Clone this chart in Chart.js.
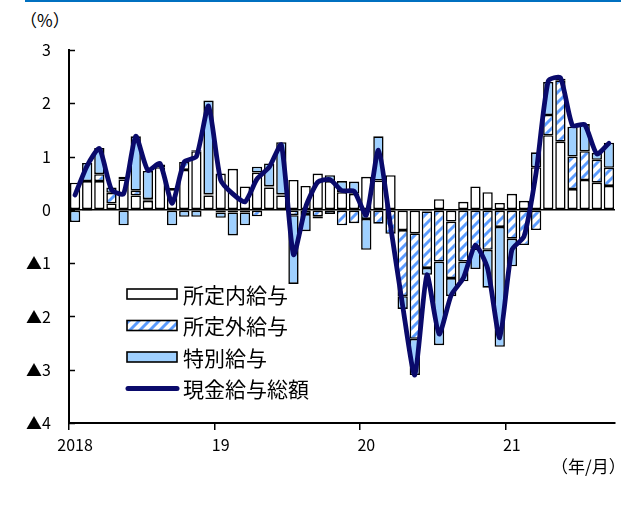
<!DOCTYPE html>
<html lang="ja">
<head>
<meta charset="utf-8">
<script src="https://cdn.jsdelivr.net/npm/chart.js@4.4.1/dist/chart.umd.min.js"></script>
<style>
    html, body { margin: 0; padding: 0; background: #fff; }
    #wrap { position: relative; width: 631px; height: 505px; font-family: 'Noto Sans CJK JP', sans-serif; color: #000; }
    #topRule { position: absolute; left: 25px; top: 0; width: 596px; height: 2px; background: #0070c0; }
    #unitY { position: absolute; left: 20px; top: 7px; font-size: 17px; }
    #unitX { position: absolute; left: 551px; top: 453px; font-size: 17px; }
    canvas { position: absolute; left: 0; top: 0; }
</style>
</head>
<body>
<div id="wrap">
    <div id="topRule"></div>
    <div id="unitY">（%）</div>
    <canvas id="wageChart" width="631" height="505"></canvas>
    <div id="unitX">（年/月）</div>
</div>
<script>
// Years shown on the x axis (label sits on January of each year)
const YEARS = ['2018', '19', '20', '21'];
const MONTHS_IN_LAST_YEAR = 9;

// Y axis range
const Y_MIN = -4;
const Y_MAX = 3;

// Year-on-year contributions (%pt)
const scheduled = [
    0.51, 0.54, 0.54, 0.12, 0.57, 0.27, 0.17, 0.80, 0.39, 0.75, 1.10, 0.27,
    0.68, 0.77, 0.44, 0.70, 0.42, 0.27, 0.56, 0.45, 0.68, 0.54, 0.33, 0.30,
    0.62, 0.55, 0.65, -0.38, -0.44, -0.03, 0.20, -0.22, 0.15, 0.44, 0.33, 0.13,
    0.30, 0.17, 0.80, 1.40, 1.28, 0.39, 0.56, 0.51, 0.45
];
const overtime = [
    0.00, -0.02, 0.13, 0.20, 0.05, 0.09, 0.03, 0.05, 0.02, 0.15, 0.02, 0.02,
    -0.05, -0.05, -0.05, -0.12, 0.02, 0.02, -0.10, -0.08, -0.12, -0.08, -0.29, -0.25,
    -0.17, -0.26, -0.45, -1.24, -1.98, -1.06, -0.97, -1.06, -0.97, -0.73, -0.75, -0.32,
    -0.54, -0.66, -0.38, 0.38, 1.15, 0.61, 0.54, 0.43, 0.34
];
const bonus = [
    -0.23, 0.34, 0.49, 0.10, -0.29, 1.02, 0.53, 0.00, -0.29, -0.13, -0.13, 1.76,
    -0.10, -0.43, -0.24, 0.11, 0.43, 0.98, -1.29, -0.32, -0.04, 0.11, 0.21, 0.23,
    -0.58, 0.83, 0.00, -0.24, -0.68, -0.13, -1.57, -0.34, -0.37, -0.38, -0.71, -2.25,
    -0.52, 0.00, 0.28, 0.62, 0.03, 0.56, 0.51, 0.13, 0.47
];
// Total cash earnings (%)
const totalPay = [
    0.28, 0.83, 1.15, 0.38, 0.30, 1.38, 0.74, 0.87, 0.12, 0.90, 1.00, 1.95,
    0.56, 0.30, 0.15, 0.58, 0.80, 1.22, -0.84, 0.05, 0.52, 0.57, 0.36, 0.35,
    -0.10, 1.12, -0.30, -1.80, -3.10, -1.22, -2.33, -1.60, -1.28, -0.66, -1.10, -2.40,
    -0.75, -0.50, 0.70, 2.42, 2.48, 1.58, 1.60, 1.05, 1.25
];

const SERIES_NAMES = ['所定内給与', '所定外給与', '特別給与', '現金給与総額'];

// Build month categories: "2018/1" ... "21/9"
const categories = [];
YEARS.forEach((y, i) => {
    const n = i === YEARS.length - 1 ? MONTHS_IN_LAST_YEAR : 12;
    for (let m = 1; m <= n; m++) categories.push(y + '/' + m);
});

// Diagonal stripe fill for overtime pay
function makeHatch() {
    const c = document.createElement('canvas');
    c.width = 10; c.height = 10;
    const g = c.getContext('2d');
    g.fillStyle = '#fff';
    g.fillRect(0, 0, 10, 10);
    g.strokeStyle = '#5b9cff';
    g.lineWidth = 3;
    g.beginPath();
    g.moveTo(-1, 11); g.lineTo(11, -1);
    g.moveTo(-3, 3); g.lineTo(3, -3);
    g.moveTo(7, 13); g.lineTo(13, 7);
    g.stroke();
    return g.createPattern(c, 'repeat');
}

const hatch = makeHatch();
const BONUS_BLUE = '#9fd0ff';
const NAVY = '#0a0a6b';

// Short inward tick marks on the y axis
const innerTicks = {
    id: 'innerTicks',
    afterDraw(chart) {
        const y = chart.scales.y;
        const ctx = chart.ctx;
        ctx.save();
        ctx.strokeStyle = '#000';
        ctx.lineWidth = 1.5;
        y.ticks.forEach(t => {
            const py = Math.round(y.getPixelForValue(t.value)) + 0.5;
            ctx.beginPath();
            ctx.moveTo(y.right, py);
            ctx.lineTo(y.right + 6, py);
            ctx.stroke();
        });
        ctx.restore();
    }
};

// Legend drawn inside the plot area
const insideLegend = {
    id: 'insideLegend',
    afterDraw(chart) {
        const area = chart.chartArea;
        const ctx = chart.ctx;
        const x0 = area.left + 58;
        const y0 = area.top + 244;
        const rowGap = 31.5;
        ctx.save();
        ctx.font = '21px "Noto Sans CJK JP"';
        ctx.textBaseline = 'middle';
        chart.data.datasets.forEach((ds, i) => {
            const cy = y0 + i * rowGap;
            if (ds.type === 'line') {
                ctx.strokeStyle = ds.borderColor;
                ctx.lineWidth = 5;
                ctx.lineCap = 'round';
                ctx.beginPath();
                ctx.moveTo(x0 + 1, cy);
                ctx.lineTo(x0 + 50, cy);
                ctx.stroke();
            } else {
                ctx.fillStyle = ds.backgroundColor;
                ctx.fillRect(x0, cy - 5, 50, 10);
                ctx.strokeStyle = '#000';
                ctx.lineWidth = 1.6;
                ctx.strokeRect(x0, cy - 5, 50, 10);
            }
            ctx.fillStyle = '#000';
            ctx.fillText(ds.label, x0 + 56, cy + 1);
        });
        ctx.restore();
    }
};

const barCommon = {
    type: 'bar',
    stack: 'parts',
    borderColor: '#000',
    borderWidth: 1.6,
    borderSkipped: false,
    barPercentage: 0.85,
    categoryPercentage: 1.0,
    order: 1
};

new Chart(document.getElementById('wageChart'), {
    data: {
        labels: categories,
        datasets: [
            { ...barCommon, label: SERIES_NAMES[0], data: scheduled, backgroundColor: '#ffffff' },
            { ...barCommon, label: SERIES_NAMES[1], data: overtime, backgroundColor: hatch },
            { ...barCommon, label: SERIES_NAMES[2], data: bonus, backgroundColor: BONUS_BLUE },
            {
                type: 'line',
                stack: 'total',
                label: SERIES_NAMES[3],
                data: totalPay,
                borderColor: NAVY,
                borderWidth: 4.8,
                borderCapStyle: 'round',
                borderJoinStyle: 'round',
                pointRadius: 0,
                tension: 0.2,
                order: 0
            }
        ]
    },
    options: {
        responsive: false,
        animation: false,
        layout: { padding: { top: 50, right: 16, left: 0, bottom: 0 } },
        plugins: {
            legend: { display: false },
            tooltip: { enabled: false }
        },
        scales: {
            x: {
                stacked: true,
                offset: true,
                afterFit(scale) { scale.height = 82; },
                border: { color: '#000', width: 2 },
                grid: {
                    offset: true,
                    drawOnChartArea: false,
                    tickLength: 7,
                    lineWidth: 1.5,
                    color: c => (c.index % 12 === 0 ? '#000' : 'rgba(0,0,0,0)')
                },
                ticks: {
                    autoSkip: false,
                    maxRotation: 0,
                    padding: 5,
                    color: '#000',
                    font: { family: '"Noto Sans CJK JP"', size: 16 },
                    callback: (v, i) => (i % 12 === 0 ? YEARS[i / 12] : '')
                }
            },
            y: {
                stacked: true,
                min: Y_MIN,
                max: Y_MAX,
                afterFit(scale) { scale.width = 69; },
                border: { color: '#000', width: 2 },
                grid: {
                    drawTicks: false,
                    lineWidth: 1.5,
                    color: c => (c.tick && c.tick.value === 0 ? '#000' : 'rgba(0,0,0,0)')
                },
                ticks: {
                    stepSize: 1,
                    padding: 18,
                    color: '#000',
                    font: { family: '"Noto Sans CJK JP"', size: 16 },
                    callback: v => (v < 0 ? '▲' + (-v) : String(v))
                }
            }
        }
    },
    plugins: [innerTicks, insideLegend]
});
</script>
</body>
</html>
